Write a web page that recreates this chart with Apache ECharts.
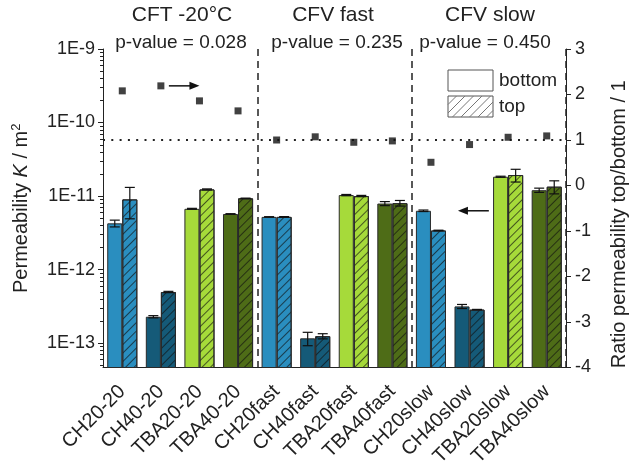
<!DOCTYPE html>
<html><head><meta charset="utf-8">
<script src="https://cdn.jsdelivr.net/npm/echarts@6/dist/echarts.min.js"></script>
<style>html,body{margin:0;padding:0;background:#fff}#c{width:629px;height:467px}</style>
</head><body><div id="c"></div>
<script>
// ---- data ----
const categories = ['CH20-20','CH40-20','TBA20-20','TBA40-20','CH20fast','CH40fast','TBA20fast','TBA40fast','CH20slow','CH40slow','TBA20slow','TBA40slow'];
const bottomMean = [4.25e-12, 2.28e-13, 6.7e-12, 5.7e-12, 5.2e-12, 1.16e-13, 1.03e-11, 7.9e-12, 6.3e-12, 3.15e-13, 1.83e-11, 1.2e-11];
const bottomSD   = [0.45e-12, 0.08e-13, 0.1e-12, 0.05e-12, 0.03e-12, 0.24e-13, 0.02e-11, 0.5e-12, 0.15e-12, 0.2e-13, 0.03e-11, 0.08e-11];
const topMean    = [9.0e-12, 4.95e-13, 1.23e-11, 9.3e-12, 5.2e-12, 1.24e-13, 1.0e-11, 8.0e-12, 3.4e-12, 2.85e-13, 1.93e-11, 1.34e-11];
const topSD      = [4.1e-12, 0.1e-13, 0.02e-11, 0.05e-12, 0.05e-12, 0.1e-13, 0.02e-11, 0.7e-12, 0.03e-12, 0.02e-13, 0.38e-11, 0.27e-11];
const ratio      = [2.08, 2.19, 1.86, 1.64, 1.0, 1.07, 0.95, 0.98, 0.51, 0.90, 1.06, 1.09];
const leftTickValues = [1e-13, 1e-12, 1e-11, 1e-10, 1e-9];
const leftTickLabels = ['1E-13','1E-12','1E-11','1E-10','1E-9'];
const leftMin = 4.65e-14, leftMax = 1e-9;
const sectionTitles = ['CFT -20°C','CFV fast','CFV slow'];
const pValues = ['p-value = 0.028','p-value = 0.235','p-value = 0.450'];
const materialColors = ['#2a8ebf','#155a78','#a6da3a','#4e6c17'];
const legendNames = ['bottom','top'];

// ---- helpers ----
const FONT = 'Liberation Sans, Arial, sans-serif';
const OFF = 14;
const t = v => Math.log10(v) + OFF;
const minorTicks = [];
for (let n = -14; n < -9; n++) for (let k = 2; k <= 9; k++) {
  const v = k * Math.pow(10, n);
  if (v >= leftMin && v <= leftMax) minorTicks.push(t(v));
}
const CAT_GAP = 0.22;
const hatch = {symbol:'rect', symbolSize:1, dashArrayX:[1,0], dashArrayY:[1,5], rotation:-Math.PI/4, color:'rgba(15,15,15,0.65)'};

const errData = [];
bottomMean.forEach((m,i)=>errData.push([i, t(m), t(m+bottomSD[i]), t(Math.max(m-bottomSD[i], 1e-20)), 0]));
topMean.forEach((m,i)=>errData.push([i, t(m), t(m+topSD[i]), t(Math.max(m-topSD[i], 1e-20)), 1]));

const chart = echarts.init(document.getElementById('c'), null, {renderer:'canvas'});
const option = {
  animation: false,
  textStyle: {fontFamily: FONT},
  grid: {left:103, right:63, top:49, bottom:99.5, containLabel:false, outerBoundsMode:'none'},
  xAxis: {
    type:'category', data: categories,
    axisLine:{onZero:false, lineStyle:{color:'#222', width:1}},
    axisTick:{alignWithLabel:true, length:5, interval:0, lineStyle:{color:'#222'}},
    axisLabel:{interval:0, rotate:45, fontSize:20, color:'#222', margin:21, fontFamily:FONT},
    splitLine:{show:true, interval:(idx)=> idx===4 || idx===8, lineStyle:{color:'#222', type:[7,5], width:1.5}}
  },
  yAxis: [
    { type:'value', position:'left', min:t(leftMin), max:t(leftMax),
      axisLine:{show:true, lineStyle:{color:'#222'}},
      axisTick:{show:true, length:5, customValues: leftTickValues.map(t), lineStyle:{color:'#222'}},
      axisLabel:{customValues: leftTickValues.map(t), formatter:(v)=>{const i=leftTickValues.findIndex(x=>Math.abs(t(x)-v)<1e-6);return i>=0?leftTickLabels[i]:'';}, fontSize:18, color:'#222', margin:8, fontFamily:FONT},
      splitLine:{show:false},
      name:'Permeability {i|K} / m{s|2}', nameLocation:'middle', nameGap:70, nameRotate:90,
      nameTextStyle:{fontSize:20, color:'#222', fontFamily:FONT, rich:{i:{fontStyle:'italic', fontSize:20, fontFamily:FONT, color:'#222'}, s:{fontSize:13, verticalAlign:'top', padding:[0,0,10,0], fontFamily:FONT, color:'#222'}}}
    },
    { type:'value', position:'right', min:-4, max:3, interval:1,
      axisLine:{show:true, lineStyle:{color:'#222'}},
      axisTick:{show:true, length:5, lineStyle:{color:'#222'}},
      axisLabel:{fontSize:18, color:'#222', margin:9, fontFamily:FONT},
      splitLine:{show:false},
      name:'Ratio permeability top/bottom / 1', nameLocation:'middle', nameGap:43, nameRotate:90,
      nameTextStyle:{fontSize:20, color:'#222', fontFamily:FONT, padding:[0,32,0,0]}
    }
  ],
  series: [
    { name:'bottom', type:'bar', yAxisIndex:0, barGap:'0%', barCategoryGap:(CAT_GAP*100)+'%',
      data: bottomMean.map((v,i)=>({value:t(v), itemStyle:{color:materialColors[i%4]}})),
      itemStyle:{borderColor:'#2a2a2a', borderWidth:1} },
    { name:'top', type:'bar', yAxisIndex:0, barGap:'0%', barCategoryGap:(CAT_GAP*100)+'%',
      data: topMean.map((v,i)=>({value:t(v), itemStyle:{color:materialColors[i%4], decal:hatch}})),
      itemStyle:{borderColor:'#2a2a2a', borderWidth:1} },
    { type:'custom', yAxisIndex:0, z:5, data: errData, encode:{x:0, y:1},
      renderItem:(params, api)=>{
        const i = api.value(0), hi = api.value(2), lo = api.value(3), side = api.value(4);
        const band = api.size([1,0])[0];
        const off = (side ? 1 : -1) * band * (1 - CAT_GAP) / 4;
        const x = api.coord([i, hi])[0] + off;
        const yHi = api.coord([i, hi])[1], yLo = api.coord([i, lo])[1];
        const cw = 5, st = {stroke:'#111', lineWidth:1.2};
        return {type:'group', children:[
          {type:'line', shape:{x1:x, y1:yHi, x2:x, y2:yLo}, style:st},
          {type:'line', shape:{x1:x-cw, y1:yHi, x2:x+cw, y2:yHi}, style:st},
          {type:'line', shape:{x1:x-cw, y1:yLo, x2:x+cw, y2:yLo}, style:st}
        ]};
      } },
    // minor (log) ticks of the left axis
    { type:'custom', yAxisIndex:0, z:5, clip:false, silent:true, data: minorTicks.map(v=>[0, v]), encode:{x:0, y:1},
      renderItem:(params, api)=>{
        const y = Math.round(api.coord([0, api.value(1)])[1]) + 0.5;
        const x = params.coordSys.x;
        return {type:'line', shape:{x1:x-3, y1:y, x2:x, y2:y}, style:{stroke:'#222', lineWidth:1}};
      } },
    { name:'ratio', type:'scatter', yAxisIndex:1, symbol:'rect', symbolSize:7, z:6,
      itemStyle:{color:'#111'}, data: ratio.map((r,i)=>[i, r]),
      markLine:{silent:true, symbol:['none','none'], label:{show:false},
        lineStyle:{color:'#222', type:[2,6.3], width:2}, data:[{yAxis:1}]} }
  ]
};
chart.setOption(option);

// ---- annotations ----
const g = [];
const sectionCenters = [182, 333, 490];
const pCenters = [181, 337, 485];
sectionTitles.forEach((s,i)=>g.push({type:'text', x:sectionCenters[i], y:15, style:{text:s, fontSize:21, fontFamily:FONT, fill:'#222', align:'center', verticalAlign:'middle'}}));
pValues.forEach((s,i)=>g.push({type:'text', x:pCenters[i], y:43, style:{text:s, fontSize:19, fontFamily:FONT, fill:'#222', align:'center', verticalAlign:'middle'}}));
// legend
const LX = 448, LW = 45, LH = 21, L1 = 70, L2 = 96;
g.push({type:'rect', shape:{x:LX, y:L1, width:LW, height:LH}, style:{fill:'#fff', stroke:'#555', lineWidth:1}});
g.push({type:'rect', shape:{x:LX, y:L2, width:LW, height:LH}, style:{fill:'#fff', stroke:'#555', lineWidth:1}});
for (let k = -LH; k < LW; k += 8.5) {
  const s0 = Math.max(0, -k), s1 = Math.min(LH, LW - k);
  if (s1 > s0) g.push({type:'line', shape:{x1:LX+k+s0, y1:L2+LH-s0, x2:LX+k+s1, y2:L2+LH-s1}, style:{stroke:'#777', lineWidth:1}});
}
g.push({type:'text', x:LX+LW+6, y:L1+LH/2, style:{text:legendNames[0], fontSize:19, fontFamily:FONT, fill:'#222', verticalAlign:'middle'}});
g.push({type:'text', x:LX+LW+6, y:L2+LH/2, style:{text:legendNames[1], fontSize:19, fontFamily:FONT, fill:'#222', verticalAlign:'middle'}});
// arrows
function arrow(x1, x2, y) {
  const dir = x2 > x1 ? 1 : -1;
  g.push({type:'line', shape:{x1:x1, y1:y, x2:x2 - dir*6, y2:y}, style:{stroke:'#111', lineWidth:1.5}});
  g.push({type:'polygon', shape:{points:[[x2,y],[x2-dir*10,y-4],[x2-dir*10,y+4]]}, style:{fill:'#111'}});
}
const c = i => chart.convertToPixel({xAxisIndex:0, yAxisIndex:1}, [i, 0])[0];
const band = c(1) - c(0);
const yA = chart.convertToPixel({xAxisIndex:0, yAxisIndex:1}, [1, ratio[1]])[1];
arrow(c(1) + 8, c(2), yA);
const yB = chart.convertToPixel({xAxisIndex:0, yAxisIndex:0}, [8, t(bottomMean[8])])[1];
arrow(c(9) + band*0.5, c(9) - band*0.3, yB);
chart.setOption({graphic: g});
</script></body></html>
